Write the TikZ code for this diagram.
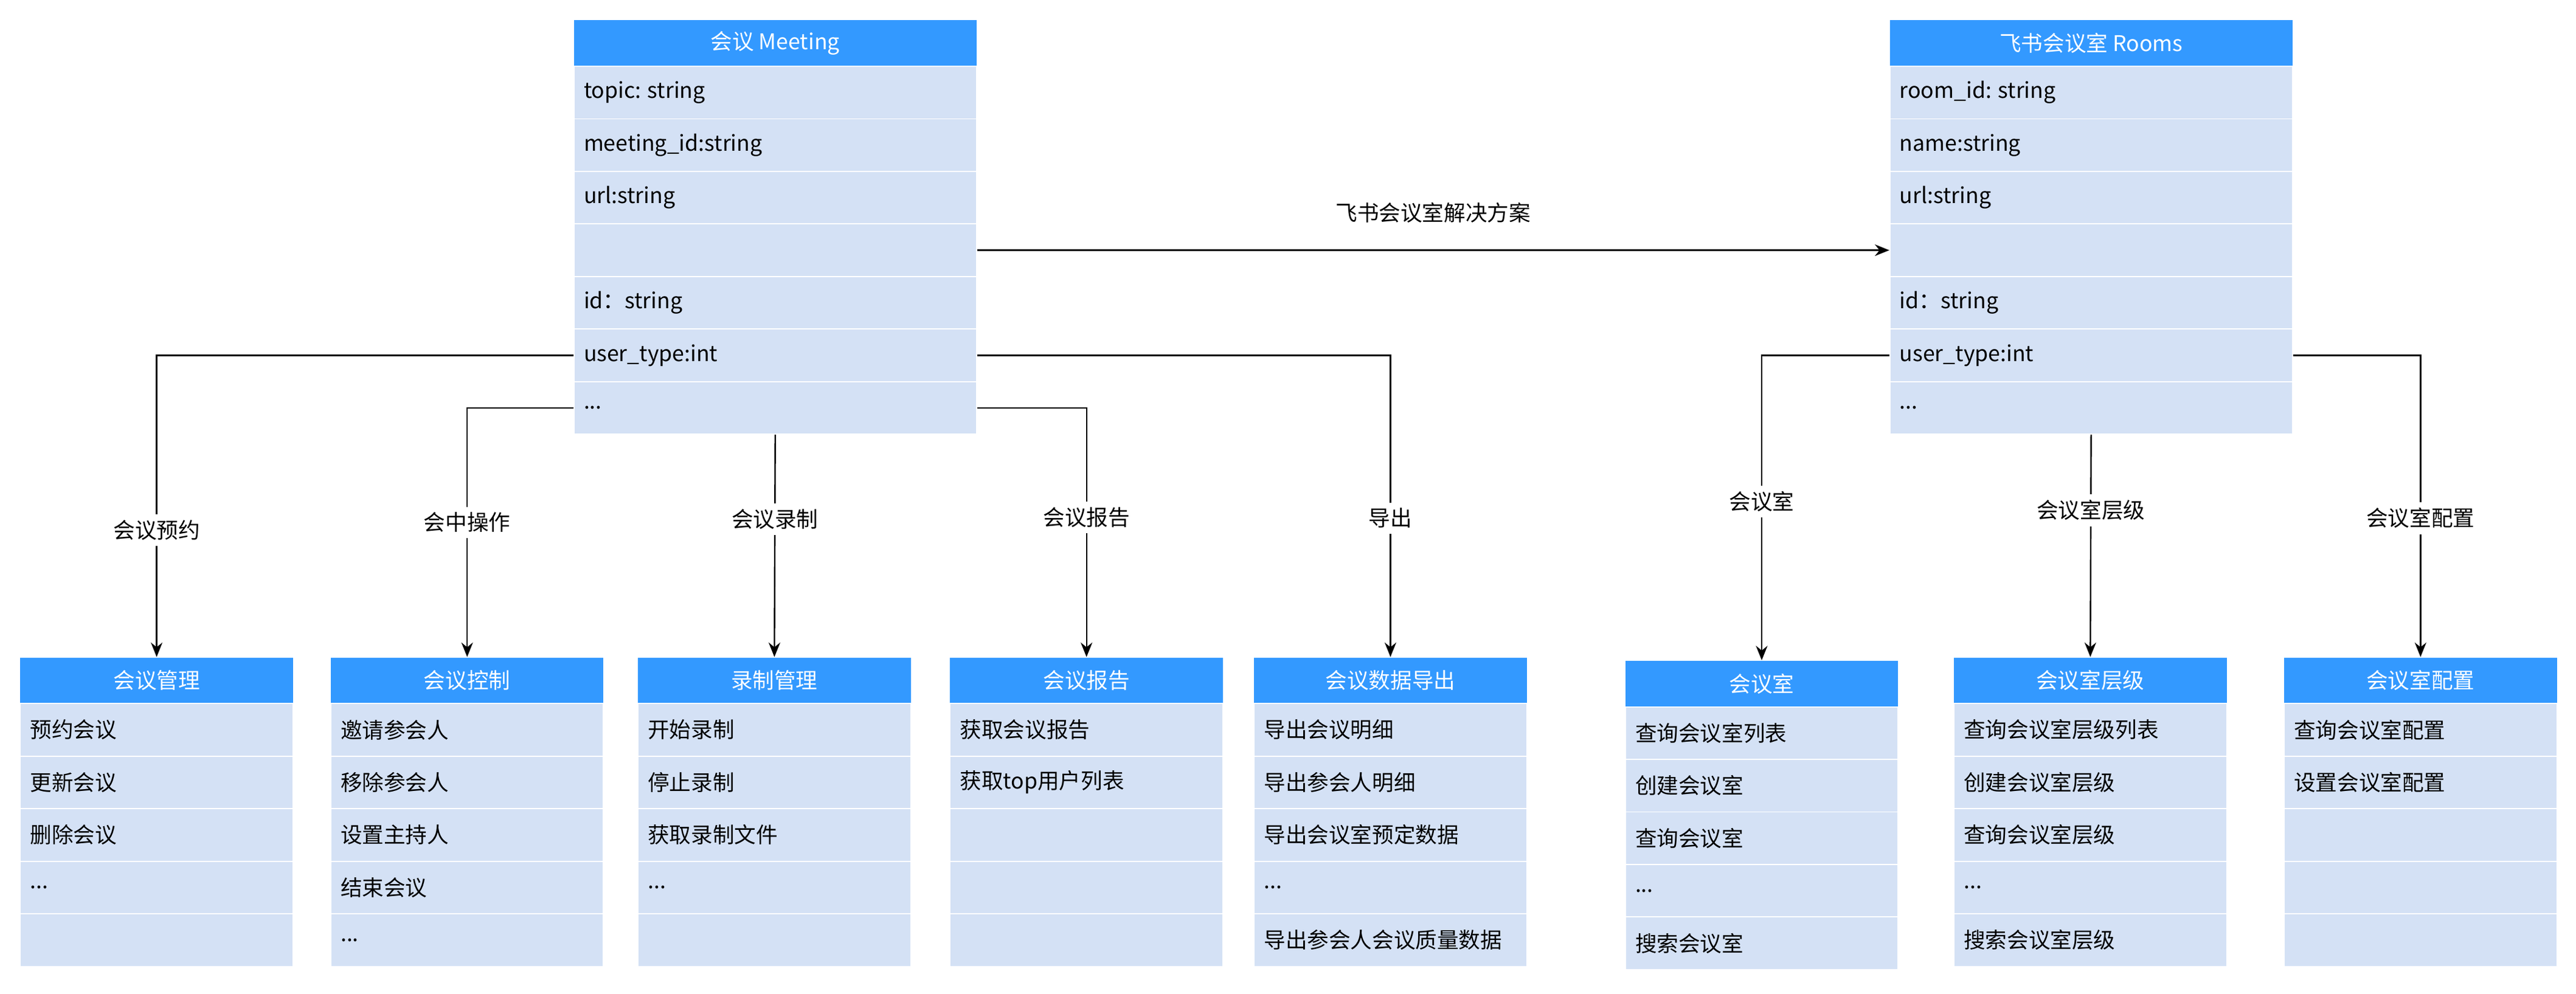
\documentclass[tikz,border=0pt]{standalone}
\usepackage{fontspec}
\setmainfont{Noto Sans CJK SC}
\usetikzlibrary{calc}
\usetikzlibrary{arrows.meta}

\definecolor{hblue}{HTML}{3399FF}
\definecolor{rblue}{HTML}{D4E1F5}

\newcommand\etc{...}

\tikzset{
  hdr/.style={fill=hblue, text=white, inner sep=0, anchor=north west},
  row/.style={fill=rblue, draw=white, line width=.4pt, inner sep=0, anchor=north west},
  txt/.style={anchor=west, inner sep=0},
  link/.style={black, line width=.5pt, -{Stealth[length=5pt,width=4pt]}},
  lbl/.style={fill=white, inner sep=2pt}
}

% name, x, y, width, header height, rows, title
\newcommand\umltable[7]{%
  \node[hdr, minimum width=#4*0.02cm, minimum height=#5*0.02cm] (#1) at (#2,#3) {#7};
  \foreach \t [count=\i] in {#6} {
    \node[row, minimum width=#4*0.02cm, minimum height=#5*0.02cm+4*0.02cm] (#1-\i) at ($(#2,#3)+(0,#5)+(0,{(\i-1)*32})$) {};
    \node[txt] (#1-\i-t) at ($(#1-\i.west)+(6,0)$) {\t};
  }
}

\begin{document}
\begin{tikzpicture}[x=0.02cm, y=-0.02cm, font=\fontsize{7.5}{9}\selectfont]
\useasboundingbox (0,0) rectangle (1568,605);

% top tables
\umltable{mt}{349}{12}{245}{28}{topic: string, meeting\_id:string, url:string, {}, id：string, user\_type:int, \etc}{会议 Meeting}
\umltable{rm}{1150}{12}{245}{28}{room\_id: string, name:string, url:string, {}, id：string, user\_type:int, \etc}{飞书会议室 Rooms}

% bottom tables
\umltable{mgmt}{12}{400}{166}{28}{预约会议, 更新会议, 删除会议, \etc, {}}{会议管理}
\umltable{ctrl}{201}{400}{166}{28}{邀请参会人, 移除参会人, 设置主持人, 结束会议, \etc}{会议控制}
\umltable{rec}{388}{400}{166}{28}{开始录制, 停止录制, 获取录制文件, \etc, {}}{录制管理}
\umltable{rpt}{578}{400}{166}{28}{获取会议报告, 获取top用户列表, {}, {}, {}}{会议报告}
\umltable{exp}{763}{400}{166}{28}{导出会议明细, 导出参会人明细, 导出会议室预定数据, \etc, 导出参会人会议质量数据}{会议数据导出}
\umltable{room}{989}{402}{166}{28}{查询会议室列表, 创建会议室, 查询会议室, \etc, 搜索会议室}{会议室}
\umltable{lvl}{1189}{400}{166}{28}{查询会议室层级列表, 创建会议室层级, 查询会议室层级, \etc, 搜索会议室层级}{会议室层级}
\umltable{cfg}{1390}{400}{166}{28}{查询会议室配置, 设置会议室配置, {}, {}, {}}{会议室配置}

% connectors
\draw[link] (mt-4.east) -- (rm-4.west) node[midway, above=6pt] (sol) {飞书会议室解决方案};
\draw[link] (mt-6.west) -| (mgmt.north) node[lbl, pos=.79] (l1) {会议预约};
\draw[link] (mt-7.west) -| (ctrl.north) node[lbl, pos=.73] (l2) {会中操作};
\draw[link] (mt-7.south) -- (rec.north) node[lbl, pos=.38] (l3) {会议录制};
\draw[link] (mt-7.east) -| (rpt.north) node[lbl, pos=.72] (l4) {会议报告};
\draw[link] (mt-6.east) -| (exp.north) node[lbl, pos=.77] (l5) {导出};
\draw[link] (rm-6.west) -| (room.north) node[lbl, pos=.74] (l6) {会议室};
\draw[link] (rm-7.south) -- (lvl.north) node[lbl, pos=.34] (l7) {会议室层级};
\draw[link] (rm-6.east) -| (cfg.north) node[lbl, pos=.77] (l8) {会议室配置};

\end{tikzpicture}
\end{document}
